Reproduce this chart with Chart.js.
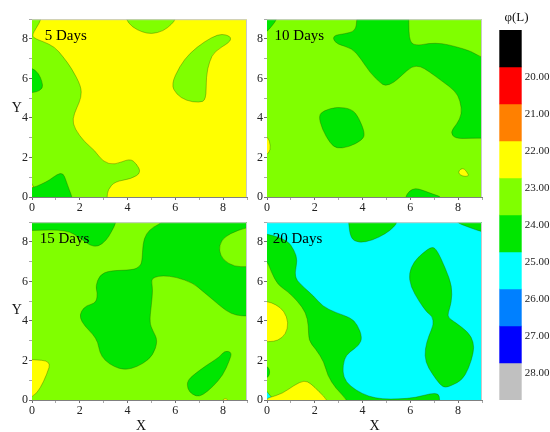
<!DOCTYPE html>
<html>
<head>
<meta charset="utf-8">
<script src="https://cdn.jsdelivr.net/npm/chart.js@4.4.1/dist/chart.umd.min.js"></script>
<style>
  body { margin: 0; background: #fff; }
  #page { position: relative; width: 550px; height: 432px; font-family: "Liberation Serif", "Times New Roman", serif; }
  .box { position: absolute; }
  .txt { position: absolute; transform: translate(-50%, -50%); color: #111; white-space: nowrap; }
</style>
</head>
<body>
<div id="page">
  <div class="box" style="left:8.3px;top:11.3px;width:245px;height:206px"><canvas id="p1"></canvas></div>
  <div class="box" style="left:242.7px;top:11.3px;width:245px;height:206px"><canvas id="p2"></canvas></div>
  <div class="box" style="left:8.3px;top:214px;width:245px;height:206px"><canvas id="p3"></canvas></div>
  <div class="box" style="left:242.5px;top:214px;width:245px;height:206px"><canvas id="p4"></canvas></div>
  <div class="box" style="left:490px;top:0;width:60px;height:432px"><canvas id="bar"></canvas></div>
  <div class="txt" style="left:516.5px;top:16.7px;font-size:13px">φ(L)</div>
  <div class="txt" style="left:16.7px;top:108px;font-size:14px">Y</div>
  <div class="txt" style="left:16.7px;top:310px;font-size:14px">Y</div>
  <div class="txt" style="left:141px;top:426px;font-size:14px">X</div>
  <div class="txt" style="left:374.5px;top:426px;font-size:14px">X</div>
</div>
<script>
// colour levels (φ(L) class edges) and their fills, top to bottom of the colour bar
const levelEdges = [20, 21, 22, 23, 24, 25, 26, 27, 28];
const levelColors = ['#000000', '#ff0000', '#ff8000', '#ffff00', '#80ff00', '#00e600', '#00ffff', '#0080ff', '#0000ff', '#c0c0c0'];
const barRange = [19, 29];

const panelTitles = ['5 Days', '10 Days', '15 Days', '20 Days'];
const titleOffsets = [12.7, 7.6, 7.7, 5.7];
const baseLevels = [22.5, 23.5, 23.5, 25.5];

// contour outlines [x, y] (points outside 0..9 close regions at the border)
// 5 days
const d5West = [[-0.5,-0.5],[-0.5,9.5],[0.4,9.5],[0.39,9.0],[0.2,8.6],[-0.02,8.15],[0.2,7.98],[0.46,7.87],[0.95,7.6],[1.3,7.1],[1.65,6.53],[2.06,5.6],[2.06,5.03],[1.88,4.53],[1.69,3.95],[1.79,3.45],[2.2,2.78],[2.62,2.37],[2.97,1.78],[3.46,1.62],[4.09,1.95],[4.37,1.7],[4.57,1.23],[4.16,0.92],[3.46,0.78],[3.18,0.37],[3.14,0],[3.14,-0.5]];
const d5WestEdge = [[-0.5,6.55],[0,6.55],[0.28,6.25],[0.42,5.85],[0.46,5.5],[0.15,5.28],[-0.5,5.28]];
const d5SouthWest = [[-0.5,0.45],[0,0.45],[0.4,0.65],[0.75,0.87],[1.05,1.15],[1.3,1.22],[1.42,0.85],[1.55,0.4],[1.68,0],[1.72,-0.5],[-0.5,-0.5]];
const d5Dot = [[-0.3,2.25],[0.08,2.05],[-0.3,1.85]];
const d5North = [[3.9,9.5],[3.92,9],[4.2,8.6],[4.6,8.35],[5.0,8.25],[5.5,8.4],[5.85,8.75],[6.01,9],[6.05,9.5]];
const d5East = [[5.83,5.7],[6.18,6.62],[6.6,7.28],[7.22,7.87],[7.78,8.23],[8.13,8.22],[8.34,8.07],[8.27,7.83],[7.64,7.37],[7.43,6.87],[7.29,6.12],[7.29,4.9],[6.99,4.78],[6.46,4.87],[6.04,5.2]];
const d5Contours = [d5West, d5WestEdge, d5SouthWest, d5Dot, d5North, d5East];
const d5Levels = [23.5, 24.5, 24.5, 22.5, 23.5, 23.5];

// 10 days
const d10Corner = [[-0.5,9.5],[0.5,9.5],[0.42,9.0],[0.2,8.65],[0,8.37],[-0.5,7.9]];
const d10North = [[3.75,9.5],[3.77,9],[3.7,8.4],[3.21,8.25],[2.86,8.2],[2.75,8.03],[2.93,7.73],[3.56,7.53],[3.91,7.03],[4.32,6.28],[4.74,5.78],[4.95,5.62],[5.3,5.78],[5.65,6.17],[6.07,6.62],[6.42,6.62],[6.76,6.37],[7.32,5.87],[7.88,5.37],[8.09,4.87],[8.16,4.2],[7.95,3.7],[7.67,3.28],[7.88,2.95],[8.58,2.98],[9,2.98],[9.5,2.98],[9.5,7.03],[9,7.03],[8.58,7.37],[7.88,7.62],[7.32,7.78],[6.76,7.78],[6.35,7.67],[5.96,7.78],[5.93,9],[5.95,9.5]];
const d10Mid = [[2.16,4.12],[2.37,4.37],[2.93,4.57],[3.56,4.45],[3.84,4.03],[4.11,3.2],[3.98,2.87],[3.42,2.53],[2.93,2.45],[2.65,2.7],[2.3,3.45]];
const d10South = [[5.75,-0.5],[5.79,0],[5.95,0.3],[6.2,0.45],[6.5,0.35],[7.0,0.12],[7.32,0],[7.4,-0.5]];
const d10WestDot = [[-0.3,3.15],[0.05,3.05],[0.15,2.6],[0.1,2.2],[-0.3,2.0]];
const d10EastDot = [[8.0,1.25],[8.1,1.42],[8.25,1.45],[8.4,1.2],[8.45,1.08],[8.3,1.03],[8.1,1.1]];
const d10Contours = [d10Corner, d10North, d10Mid, d10South, d10WestDot, d10EastDot];
const d10Levels = [24.5, 24.5, 24.5, 24.5, 22.5, 22.5];

// 15 days
const d15NorthWest = [[-0.5,9.5],[-0.5,8.58],[0,8.58],[1.44,8.62],[2.06,8.17],[2.41,7.83],[2.76,7.75],[3.11,8.08],[3.32,8.5],[3.53,9],[3.55,9.5]];
const d15Main = [[5.5,9.5],[5.48,9],[5.06,8.75],[4.78,8.42],[4.64,7.92],[4.61,7.0],[4.5,6.75],[4.23,6.58],[3.25,6.55],[2.83,6.33],[2.66,5.75],[2.74,5.42],[2.69,4.92],[2.27,4.78],[2.06,4.5],[2.0,4.17],[2.2,3.75],[2.55,3.33],[2.76,2.92],[2.83,2.42],[3.04,2.0],[3.46,1.67],[3.81,1.55],[4.16,1.58],[4.64,1.83],[5.06,2.25],[5.27,3.0],[5.06,3.5],[4.92,3.92],[4.99,4.75],[5.06,5.58],[4.99,6.08],[5.13,6.22],[5.48,6.3],[6.04,6.22],[6.74,5.92],[7.15,5.5],[7.57,5.08],[8.13,4.5],[8.55,4.28],[9,4.25],[9.5,4.25],[9.5,6.75],[9,6.75],[8.48,6.75],[8.0,7.08],[7.82,7.58],[7.92,8.08],[8.27,8.42],[9,8.75],[9.5,8.75],[9.5,9.5]];
const d15SouthEast = [[6.53,1.0],[6.74,1.25],[7.29,1.75],[7.85,2.17],[8.06,2.5],[8.37,2.42],[8.27,2.0],[7.99,1.25],[7.57,0.67],[7.15,0.25],[6.88,0.17],[6.57,0.42],[6.49,0.75]];
const d15SouthWest = [[-0.5,2.05],[0,2.05],[0.8,1.97],[0.62,1.3],[0.35,0.6],[0.05,0.15],[-0.5,0.05]];
const d15Dot = [[7.9,-0.2],[8.0,0.04],[8.15,0.1],[8.3,-0.2]];
const d15Contours = [d15NorthWest, d15Main, d15SouthEast, d15SouthWest, d15Dot];
const d15Levels = [24.5, 24.5, 24.5, 22.5, 22.5];

// 20 days
const d20West = [[-0.5,-0.5],[-0.5,8.42],[0,8.42],[0.86,8.08],[1.14,7.58],[1.28,7.08],[1.14,6.25],[1.42,5.83],[1.97,5.25],[2.32,4.75],[2.88,4.42],[3.5,4.17],[3.78,3.83],[3.99,3.17],[3.85,2.75],[3.44,2.42],[3.23,2.08],[3.16,1.42],[3.3,0.92],[3.71,0.5],[4.27,0.17],[4.83,0.05],[5.52,0.05],[6.22,0.12],[6.84,0.33],[7.19,0.33],[7.23,0],[7.25,-0.5]];
const d20WestInner = [[-0.5,-0.5],[-0.5,7.08],[0,7.08],[0.17,6.5],[0.45,5.83],[0.86,5.5],[1.28,5.0],[1.63,4.42],[1.74,3.75],[1.74,3.0],[2.04,2.58],[2.39,1.92],[2.53,1.25],[2.88,0.58],[3.37,0],[3.4,-0.5]];
const d20WestEdge = [[-0.3,1.78],[0.05,1.7],[0.13,1.42],[0.05,1.12],[-0.3,1.05]];
const d20WestYellow = [[-0.5,5.0],[0,5.0],[0.38,4.83],[0.72,4.5],[0.9,3.92],[0.79,3.33],[0.45,3.0],[0.1,2.95],[-0.5,2.95]];
const d20SouthYellow = [[-0.1,-0.5],[0.0,0.08],[0.1,0.12],[0.65,0.33],[1.14,0.75],[1.56,1.0],[1.84,0.83],[2.18,0.42],[2.53,0],[2.6,-0.5]];
const d20North = [[3.4,9.5],[3.41,9],[3.5,8.17],[3.85,7.95],[4.41,8.08],[4.97,8.42],[5.31,8.75],[5.45,9],[5.5,9.5]];
const d20NorthEast = [[7.85,9.5],[7.89,9],[8.44,8.75],[9,8.5],[9.5,8.45],[9.5,9.5]];
const d20East = [[5.94,6.42],[6.15,7.0],[6.5,7.42],[6.91,7.78],[7.12,7.58],[7.47,6.67],[7.75,5.75],[7.72,4.92],[7.58,4.42],[7.58,4.17],[7.89,3.92],[8.44,3.42],[8.65,2.92],[8.65,2.42],[8.44,1.58],[8.16,1.0],[7.75,0.75],[7.47,0.62],[7.26,0.75],[6.91,1.33],[6.63,1.92],[6.61,2.58],[6.77,3.25],[6.98,3.83],[6.91,4.25],[6.7,4.42],[6.36,5.0],[6.01,5.75]];
const d20Contours = [d20West, d20WestInner, d20WestEdge, d20WestYellow, d20SouthYellow, d20North, d20NorthEast, d20East];
const d20Levels = [24.5, 23.5, 24.5, 22.5, 22.5, 24.5, 24.5, 24.5];

const FONT = '"Liberation Serif", "Times New Roman", serif';

function colorFor(v) {
    return levelColors[levelEdges.filter(e => e <= v).length];
}

// fills the contour regions through the x/y scales, smoothing the outline corners
const contourFill = {
    id: 'contourFill',
    beforeDatasetsDraw(chart, args, opts) {
        const { ctx, chartArea: a, scales: { x, y } } = chart;
        ctx.save();
        ctx.beginPath();
        ctx.rect(a.left, a.top, a.right - a.left, a.bottom - a.top);
        ctx.clip();
        ctx.fillStyle = colorFor(opts.base);
        ctx.fillRect(a.left, a.top, a.right - a.left, a.bottom - a.top);
        chart.data.datasets.forEach(ds => {
            const p = ds.data.map(d => [x.getPixelForValue(d.x), y.getPixelForValue(d.y)]);
            const n = p.length;
            const mid = (i, j) => [(p[i][0] + p[j][0]) / 2, (p[i][1] + p[j][1]) / 2];
            ctx.beginPath();
            const s = mid(n - 1, 0);
            ctx.moveTo(s[0], s[1]);
            for (let i = 0; i < n; i++) {
                const m = mid(i, (i + 1) % n);
                ctx.quadraticCurveTo(p[i][0], p[i][1], m[0], m[1]);
            }
            ctx.closePath();
            ctx.fillStyle = ds.backgroundColor;
            ctx.fill();
            ctx.strokeStyle = 'rgba(40,80,0,0.5)';
            ctx.lineWidth = 0.7;
            ctx.stroke();
        });
        ctx.restore();
    },
    afterDraw(chart, args, opts) {
        const { ctx, chartArea: a } = chart;
        ctx.save();
        ctx.strokeStyle = '#c8c8c8';
        ctx.lineWidth = 1;
        ctx.beginPath();
        ctx.moveTo(a.left, a.top + 0.5);
        ctx.lineTo(a.right - 0.5, a.top + 0.5);
        ctx.lineTo(a.right - 0.5, a.bottom);
        ctx.stroke();
        ctx.fillStyle = '#000';
        ctx.font = '15px ' + FONT;
        ctx.textBaseline = 'alphabetic';
        ctx.fillText(opts.label, a.left + opts.labelX, a.top + 21);
        ctx.restore();
    }
};

function axis(fitSide, size) {
    return {
        type: 'linear', min: 0, max: 9, z: 1,
        ticks: {
            stepSize: 1, autoSkip: false, maxRotation: 0, padding: 1, color: '#222',
            font: { family: FONT, size: 12 },
            callback: v => (v % 2 === 0 && v < 9) ? String(v) : ''
        },
        grid: {
            drawOnChartArea: false, tickLength: 3,
            tickColor: c => (c.tick && c.tick.value % 2 === 0) ? '#707070' : '#a8a8a8'
        },
        border: { color: '#808080' },
        afterFit: s => { s[fitSide] = size; }
    };
}

function makePanel(id, i, contours, levels) {
    new Chart(document.getElementById(id), {
        type: 'scatter',
        data: {
            datasets: contours.map((c, k) => ({
                data: c.map(pt => ({ x: pt[0], y: pt[1] })),
                backgroundColor: colorFor(levels[k]),
                pointRadius: 0,
                showLine: false
            }))
        },
        options: {
            responsive: true, maintainAspectRatio: false, animation: false, events: [],
            layout: { padding: { top: 6, right: 6, left: 0, bottom: 0 } },
            scales: { x: axis('height', 20), y: axis('width', 24) },
            plugins: {
                legend: { display: false }, tooltip: { enabled: false },
                contourFill: { base: baseLevels[i], label: panelTitles[i], labelX: titleOffsets[i] }
            }
        },
        plugins: [contourFill]
    });
}

makePanel('p1', 0, d5Contours, d5Levels);
makePanel('p2', 1, d10Contours, d10Levels);
makePanel('p3', 2, d15Contours, d15Levels);
makePanel('p4', 3, d20Contours, d20Levels);

// colour bar: one floating bar per class
const bands = levelColors.map((c, k) => [barRange[0] + k, barRange[0] + k + 1]);
new Chart(document.getElementById('bar'), {
    type: 'bar',
    data: {
        labels: [''],
        datasets: bands.map((b, k) => ({
            data: [b], backgroundColor: levelColors[k],
            barPercentage: 1, categoryPercentage: 1, grouped: false
        }))
    },
    options: {
        responsive: true, maintainAspectRatio: false, animation: false, events: [],
        layout: { padding: { left: 9.3, top: 30, bottom: 32, right: 0 } },
        scales: {
            x: { display: false },
            y: {
                position: 'right', reverse: true, min: barRange[0], max: barRange[1],
                ticks: {
                    stepSize: 1, autoSkip: false, padding: 3, labelOffset: 10, color: '#222',
                    font: { family: FONT, size: 11 },
                    callback: v => levelEdges.includes(v) ? v.toFixed(2) : ''
                },
                grid: { display: false, drawTicks: false },
                border: { display: false },
                afterFit: s => { s.width = 28.3; }
            }
        },
        plugins: { legend: { display: false }, tooltip: { enabled: false } }
    }
});
</script>
</body>
</html>
